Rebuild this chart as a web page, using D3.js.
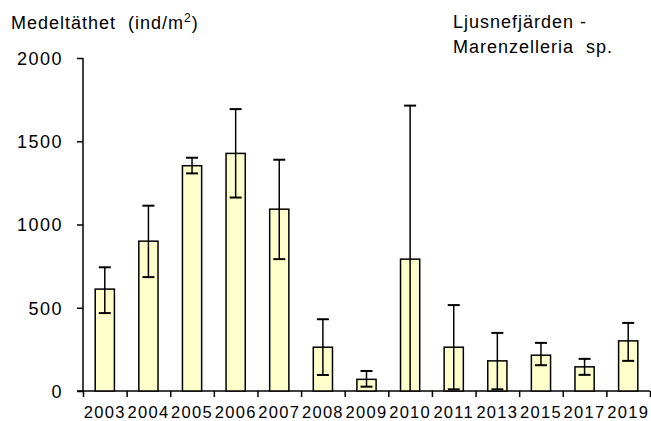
<!DOCTYPE html>
<html>
<head>
<meta charset="utf-8">
<script src="https://cdn.jsdelivr.net/npm/d3@7"></script>
<style>
  body { margin: 0; background: #fff; }
  text { font-family: "Liberation Sans", Arial, sans-serif; fill: #000; }
</style>
</head>
<body>
<div id="chart"></div>
<script>
var years = ["2003", "2004", "2005", "2006", "2007", "2008", "2009", "2010", "2011", "2013", "2015", "2017", "2019"];
var means = [612, 900, 1353, 1427, 1092, 263, 70, 792, 263, 181, 215, 145, 301];
var errLow = [468, 684, 1307, 1162, 792, 96, 26, -130, 10, 10, 155, 97, 181];
var errHigh = [743, 1113, 1401, 1693, 1389, 431, 120, 1714, 516, 349, 289, 193, 409];
var yTicks = [0, 500, 1000, 1500, 2000];

var w = 651, h = 421;
var plotL = 83, plotR = 650, plotT = 58, plotB = 391;

var svg = d3.select("#chart").append("svg")
  .attr("width", w)
  .attr("height", h);

var x = d3.scaleBand().domain(years).range([plotL, plotR]).padding(0);
var y = d3.scaleLinear().domain([0, 2000]).range([plotB, plotT]);
var barW = x.bandwidth() * 0.44;

// y axis
var yAxis = svg.append("g")
  .attr("transform", "translate(" + plotL + ",0)")
  .call(d3.axisLeft(y).tickValues(yTicks).tickSize(6).tickPadding(14).tickFormat(d3.format("d")));
yAxis.select(".domain").attr("d", "M0," + plotT + "V" + plotB).attr("stroke-width", 1.5);
yAxis.selectAll(".tick line").attr("stroke-width", 1.5);
yAxis.selectAll("text").style("font-size", "18px").style("letter-spacing", "1.5px").attr("dy", "0.36em");

// x axis: boundary ticks
var xi = d3.scaleLinear().domain([0, years.length]).range([plotL, plotR]);
var xAxis = svg.append("g")
  .attr("transform", "translate(0," + plotB + ")")
  .call(d3.axisBottom(xi).tickValues(d3.range(years.length + 1)).tickSize(6).tickFormat(""));
xAxis.select(".domain").attr("d", "M" + (plotL - 6) + ",0H" + plotR).attr("stroke-width", 1.5);
xAxis.selectAll(".tick line").attr("stroke-width", 1.5);

// x labels
var xLab = svg.append("g")
  .attr("transform", "translate(0," + plotB + ")")
  .call(d3.axisBottom(x).tickSize(0).tickPadding(15));
xLab.select(".domain").remove();
xLab.selectAll("text").style("font-size", "16.5px").style("letter-spacing", "1.3px");

// bars
svg.selectAll("rect.bar")
  .data(means)
  .enter()
  .append("rect")
  .attr("class", "bar")
  .attr("x", function(d, i) { return x(years[i]) + (x.bandwidth() - barW) / 2; })
  .attr("y", function(d) { return y(d); })
  .attr("width", barW)
  .attr("height", function(d) { return y(0) - y(d); })
  .style("fill", "#ffffcc")
  .style("stroke", "#000")
  .style("stroke-width", 1.5);

// error bars
var eb = svg.selectAll("g.err")
  .data(years)
  .enter()
  .append("g")
  .attr("class", "err")
  .attr("transform", function(d) { return "translate(" + (x(d) + x.bandwidth() / 2) + ",0)"; });
eb.append("line")
  .attr("y1", function(d, i) { return y(Math.max(0, errLow[i])); })
  .attr("y2", function(d, i) { return y(errHigh[i]); })
  .attr("stroke", "#000").attr("stroke-width", 1.5);
eb.append("line")
  .attr("x1", -6).attr("x2", 6)
  .attr("y1", function(d, i) { return y(errHigh[i]); })
  .attr("y2", function(d, i) { return y(errHigh[i]); })
  .attr("stroke", "#000").attr("stroke-width", 2);
eb.filter(function(d, i) { return errLow[i] >= 0; })
  .append("line")
  .attr("x1", -6).attr("x2", 6)
  .attr("y1", function(d) { return y(errLow[years.indexOf(d)]); })
  .attr("y2", function(d) { return y(errLow[years.indexOf(d)]); })
  .attr("stroke", "#000").attr("stroke-width", 2);

// titles
svg.append("text")
  .attr("x", 11).attr("y", 29)
  .style("font-size", "18px").style("letter-spacing", "1px")
  .html('Medeltäthet &#160;(ind/m<tspan dy="-7" style="font-size:12px">2</tspan><tspan dy="7">)</tspan>');
svg.append("text")
  .attr("x", 453).attr("y", 28)
  .style("font-size", "18px").style("letter-spacing", "1px")
  .text("Ljusnefjärden -");
svg.append("text")
  .attr("x", 453).attr("y", 53)
  .style("font-size", "18px").style("letter-spacing", "1px")
  .attr("xml:space", "preserve")
  .text("Marenzelleria  sp.");
</script>
</body>
</html>
